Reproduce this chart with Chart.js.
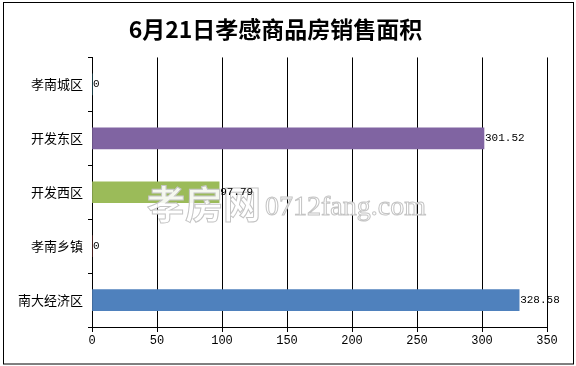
<!DOCTYPE html>
<html lang="zh-CN">
<head>
  <meta charset="UTF-8">
  <title>6月21日孝感商品房销售面积</title>
  <script src="https://cdn.jsdelivr.net/npm/chart.js"></script>
  <style>
    body { margin: 0; background: #fff; }
    #chart { display: block; }
  </style>
</head>
<body>
  <canvas id="chart" width="576" height="366"></canvas>
<script>
  // 数据
  const districts = ['孝南城区', '开发东区', '开发西区', '孝南乡镇', '南大经济区'];
  const areas = [0, 301.52, 97.79, 0, 328.58];
  const areaLabels = ['0', '301.52', '97.79', '0', '328.58'];
  const xTicks = [0, 50, 100, 150, 200, 250, 300, 350];

  const barColors = ['#4BACC6', '#8064A2', '#9BBB59', '#C0504D', '#4F81BD'];

  // 白底 + 外框
  const frame = {
    id: 'frame',
    beforeDraw(chart) {
      const ctx = chart.ctx;
      ctx.save();
      ctx.fillStyle = '#fff';
      ctx.fillRect(0, 0, chart.width, chart.height);
      ctx.strokeStyle = '#000';
      ctx.lineWidth = 1;
      ctx.strokeRect(3.5, 2.5, 570, 361.5);
      ctx.restore();
    }
  };

  // 水印
  const watermark = {
    id: 'watermark',
    afterDatasetsDraw(chart) {
      const ctx = chart.ctx;
      ctx.save();
      ctx.textBaseline = 'middle';
      ctx.fillStyle = 'rgba(255,255,255,0.9)';
      ctx.strokeStyle = '#c4c4c4';
      ctx.lineWidth = 1;
      ctx.font = 'bold 38px "Noto Sans CJK SC"';
      ctx.fillText('孝房网', 147, 204);
      ctx.strokeText('孝房网', 147, 204);
      ctx.font = '28px "Liberation Serif"';
      ctx.fillText('0712fang.com', 265, 208);
      ctx.strokeText('0712fang.com', 265, 208);
      ctx.restore();
    }
  };

  // 数据标签
  const valueLabels = {
    id: 'valueLabels',
    afterDraw(chart) {
      const ctx = chart.ctx;
      ctx.save();
      ctx.font = '11px "Liberation Mono"';
      ctx.fillStyle = '#000';
      ctx.textBaseline = 'middle';
      chart.getDatasetMeta(0).data.forEach((bar, i) => {
        ctx.fillText(areaLabels[i], bar.x + 1, bar.y);
      });
      ctx.restore();
    }
  };

  new Chart(document.getElementById('chart'), {
    type: 'bar',
    data: {
      labels: districts,
      datasets: [{
        data: areas,
        backgroundColor: barColors,
        barThickness: 21
      }]
    },
    options: {
      indexAxis: 'y',
      responsive: false,
      animation: false,
      layout: { padding: { left: 4, right: 29, top: 0, bottom: 0 } },
      plugins: {
        legend: { display: false },
        tooltip: { enabled: false },
        title: {
          display: true,
          text: '6月21日孝感商品房销售面积',
          color: '#000',
          font: { family: '"Noto Sans CJK SC"', size: 23, weight: 'bold', lineHeight: 1.15 },
          padding: { top: 16, bottom: 15 }
        }
      },
      scales: {
        x: {
          min: 0,
          max: 350,
          afterBuildTicks: s => { s.ticks = xTicks.map(v => ({ value: v })); },
          afterFit: s => { s.height = 39; },
          grid: { color: '#000', tickLength: 5 },
          border: { color: '#000' },
          ticks: {
            color: '#000',
            padding: 2,
            font: { family: '"Liberation Mono"', size: 12 }
          }
        },
        y: {
          afterFit: s => { s.width = 88; },
          grid: { color: '#000', drawOnChartArea: false, tickLength: 4 },
          border: { color: '#000' },
          ticks: {
            color: '#000',
            padding: 5,
            font: { family: '"Noto Sans CJK SC"', size: 13 }
          }
        }
      }
    },
    plugins: [frame, watermark, valueLabels]
  });
</script>
</body>
</html>
